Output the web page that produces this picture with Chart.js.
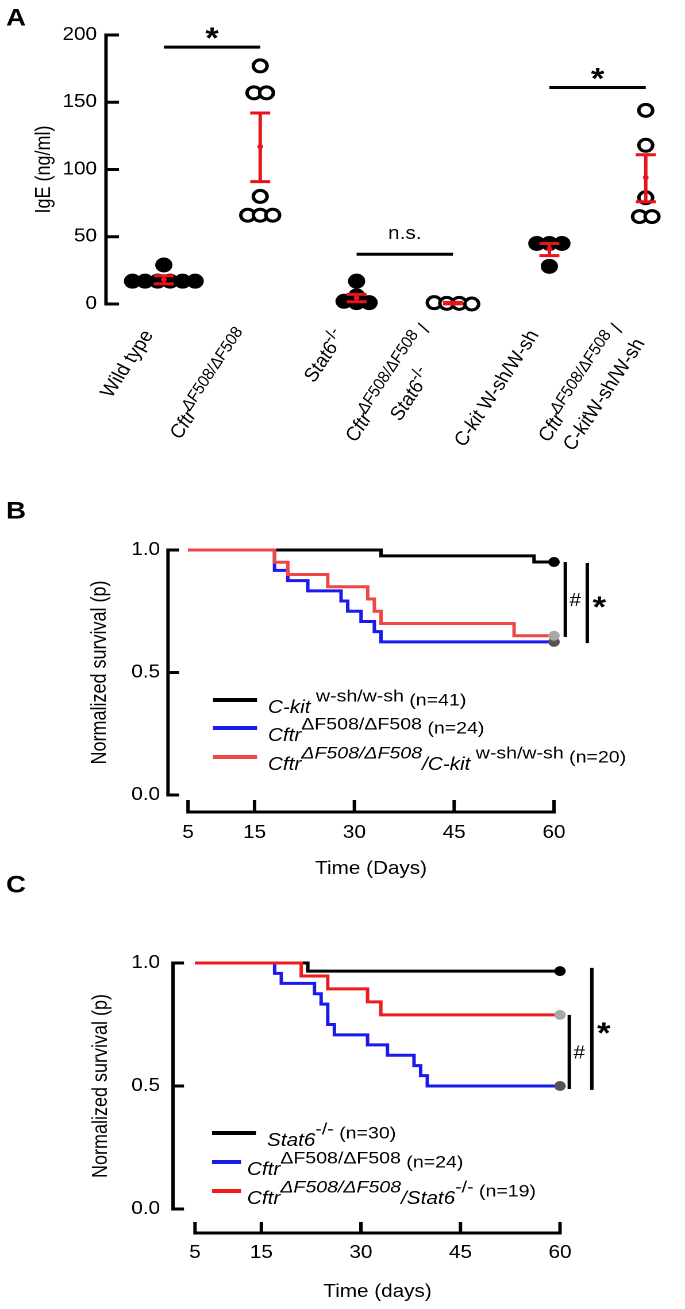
<!DOCTYPE html>
<html>
<head>
<meta charset="utf-8">
<script src="https://cdn.jsdelivr.net/npm/chart.js@4.4.1/dist/chart.umd.min.js"></script>
<style>
  html, body { margin: 0; padding: 0; background: #fff; overflow: hidden; }
  canvas { position: absolute; left: 0; display: block; transform-origin: 0 0; }
</style>
</head>
<body>
<canvas id="chartA" width="596" height="490" style="top:0px"></canvas>
<canvas id="chartB" width="596" height="410" style="top:490px"></canvas>
<canvas id="chartC" width="596" height="449" style="top:860px"></canvas>
<script>
const FONT = '"Liberation Sans", Arial, Helvetica, sans-serif';
const W = 596;
const SX = 685 / W;            // the figure is drawn slightly stretched sideways
const X = t => t / SX;         // photo x -> canvas x
const FS = 18;                 // axis text size

// ---------- panel A: serum IgE ----------
const groupsA = ['Wild type', 'CftrΔF508/ΔF508', 'Stat6-/-', 'CftrΔF508/ΔF508 / Stat6-/-',
                 'C-kit W-sh/W-sh', 'CftrΔF508/ΔF508 / C-kitW-sh/W-sh'];
const tickLinesA = [
  [[['Wild type', 'n']]],
  [[['Cftr', 'i'], ['ΔF508/ΔF508', 'si']]],
  [[['Stat6', 'i'], ['-/-', 's']]],
  [[['Cftr', 'i'], ['ΔF508/ΔF508', 'si'], [' /', 'n']], [['Stat6', 'i'], ['-/-', 's']]],
  [[['C-kit', 'i'], [' W-sh/W-sh', 'n']]],
  [[['Cftr', 'i'], ['ΔF508/ΔF508', 'si'], [' /', 'n']], [['C-kit', 'i'], ['W-sh/W-sh', 'n']]]
];
const filledA = [true, false, true, false, true, false];
const igeWT = [29, 17, 17, 17, 17, 17, 17];
const igeCftr = [177, 157, 157, 80, 66, 66, 66];
const igeStat6 = [17, 6, 2, 1, 1];
const igeCftrStat6 = [1, 0.5, 0.5, 0];
const igeCkit = [45, 45, 45, 28];
const igeCftrCkit = [144, 118, 79, 65, 65];
const igeMean = [18, 117, 4.5, 0.6, 41, 94];
const igeLow = [15, 91, 1.7, 0.1, 36, 76];
const igeHigh = [21, 142, 7.2, 1.2, 45, 111];
const igeTicks = [0, 50, 100, 150, 200];
const sigFromA = [0, 2, 4];
const sigLevelA = [191, 37, 161];
const sigTextA = ['*', 'n.s.', '*'];

// ---------- panel B: survival, C-kit ----------
const dayTicks = [5, 15, 30, 45, 60];
const survTicks = [0, 0.5, 1];
const daysCkit = [5, 34, 57, 60];
const survCkit = [1, 0.976, 0.951, 0.951];
const daysCftrB = [5, 18, 20, 23, 28, 29, 31, 33, 34, 60];
const survCftrB = [1, 0.917, 0.875, 0.833, 0.792, 0.75, 0.708, 0.667, 0.625, 0.625];
const daysCftrCkit = [5, 18, 20, 26, 32, 33, 34, 54, 60];
const survCftrCkit = [1, 0.95, 0.9, 0.85, 0.8, 0.75, 0.7, 0.65, 0.65];
const legendB = [
  [['C-kit', 'i'], [' w-sh/w-sh', 's'], [' (n=41)', 'm']],
  [['Cftr', 'i'], ['ΔF508/ΔF508', 's'], [' (n=24)', 'm']],
  [['Cftr', 'i'], ['ΔF508/ΔF508', 'si'], ['/C-kit', 'i'], [' w-sh/w-sh', 's'], [' (n=20)', 'm']]
];
const sigDayB = [61.7, 65.0];
const sigTopB = [0.951, 0.947];
const sigBotB = [0.645, 0.62];
const sigTextB = ['#', '*'];

// ---------- panel C: survival, Stat6 ----------
const daysStat6 = [5, 22, 60];
const survStat6 = [1, 0.967, 0.967];
const daysCftrC = [5, 17, 18, 23, 24, 25, 26, 31, 34, 38, 39, 40, 60];
const survCftrC = [1, 0.958, 0.917, 0.875, 0.833, 0.75, 0.708, 0.667, 0.625, 0.583, 0.542, 0.5, 0.5];
const daysCftrStat6 = [5, 21, 25, 31, 33, 60];
const survCftrStat6 = [1, 0.947, 0.895, 0.842, 0.789, 0.789];
const legendC = [
  [['Stat6', 'i'], ['-/-', 's'], [' (n=30)', 'm']],
  [['Cftr', 'i'], ['ΔF508/ΔF508', 's'], [' (n=24)', 'm']],
  [['Cftr', 'i'], ['ΔF508/ΔF508', 'si'], ['/Stat6', 'i'], ['-/-', 's'], [' (n=19)', 'm']]
];
const sigDayC = [61.4, 64.8];
const sigTopC = [0.789, 0.98];
const sigBotC = [0.488, 0.484];
const sigTextC = ['#', '*'];

// text styles for mixed italic / superscript labels
const STY_A = {
  n: {f: `18px ${FONT}`, dy: 0}, i: {f: `italic 18px ${FONT}`, dy: 0},
  s: {f: `15px ${FONT}`, dy: -6}, si: {f: `italic 15px ${FONT}`, dy: -6}
};
const STY_LEG = {
  n: {f: `18px ${FONT}`, dy: 8}, i: {f: `italic 18px ${FONT}`, dy: 8},
  s: {f: `17px ${FONT}`, dy: -3}, si: {f: `italic 17px ${FONT}`, dy: -3},
  m: {f: `17px ${FONT}`, dy: 1}
};

function richWidth(ctx, segs, sty) {
  return segs.reduce((w, [t, s]) => { ctx.font = sty[s].f; return w + ctx.measureText(t).width; }, 0);
}

function drawRich(ctx, segs, x, y, align, sty) {
  const total = richWidth(ctx, segs, sty);
  let cx = align === 'right' ? x - total : align === 'center' ? x - total / 2 : x;
  ctx.textAlign = 'left';
  ctx.textBaseline = 'middle';
  segs.forEach(([t, s]) => {
    ctx.font = sty[s].f;
    ctx.fillText(t, cx, y + sty[s].dy);
    cx += ctx.measureText(t).width;
  });
}

function sigFont(t) {
  return t === '*' ? `bold 30px ${FONT}` : `18px ${FONT}`;
}

// put text so that its ink is centred on (cx, cy)
function textCentered(ctx, t, cx, cy) {
  ctx.textAlign = 'center';
  ctx.textBaseline = 'alphabetic';
  const m = ctx.measureText(t);
  ctx.fillText(t, cx, cy + (m.actualBoundingBoxAscent - m.actualBoundingBoxDescent) / 2);
}

function panelLetter(ctx, t, x, y) {
  ctx.fillStyle = '#000';
  ctx.font = `bold 24px ${FONT}`;
  textCentered(ctx, t, x, y);
}

// spread equal values side by side, like the dot plot
function swarm(values, center) {
  const rows = [];
  values.slice().sort((a, b) => b - a).forEach(v => {
    const row = rows[rows.length - 1];
    if (row && Math.abs(row[0] - v) <= 3) row.push(v); else rows.push([v]);
  });
  const pts = [];
  rows.forEach(row => row.forEach((v, i) => pts.push({x: center + (i - (row.length - 1) / 2) * 0.13, y: v})));
  return pts;
}

const panelA = {
  id: 'panelA',
  afterDatasetsDraw(chart) {
    const {ctx, chartArea: ca, scales: {x, y}} = chart;
    ctx.save();
    ctx.strokeStyle = '#000';
    ctx.lineWidth = 3;
    ctx.beginPath();
    ctx.moveTo(ca.left, y.getPixelForValue(200) - 1.5);
    ctx.lineTo(ca.left, y.getPixelForValue(0) + 1.5);
    igeTicks.forEach(v => {
      const py = y.getPixelForValue(v);
      ctx.moveTo(ca.left, py);
      ctx.lineTo(ca.left + X(13), py);
    });
    ctx.stroke();

    // mean +/- SEM in red
    ctx.strokeStyle = '#e8141a';
    ctx.fillStyle = '#e8141a';
    igeMean.forEach((m, i) => {
      const px = x.getPixelForValue(i);
      const lo = y.getPixelForValue(igeLow[i]);
      const hi = y.getPixelForValue(igeHigh[i]);
      ctx.beginPath();
      ctx.moveTo(px, lo); ctx.lineTo(px, hi);
      ctx.moveTo(px - X(10), lo); ctx.lineTo(px + X(10), lo);
      ctx.moveTo(px - X(10), hi); ctx.lineTo(px + X(10), hi);
      ctx.stroke();
      ctx.beginPath();
      ctx.arc(px, y.getPixelForValue(m), 2.5, 0, Math.PI * 2);
      ctx.fill();
    });

    // significance bars
    ctx.strokeStyle = '#000';
    ctx.fillStyle = '#000';
    sigFromA.forEach((g, i) => {
      const x0 = x.getPixelForValue(g), x1 = x.getPixelForValue(g + 1);
      const py = y.getPixelForValue(sigLevelA[i]);
      ctx.beginPath();
      ctx.moveTo(x0, py); ctx.lineTo(x1, py);
      ctx.stroke();
      ctx.font = sigFont(sigTextA[i]);
      textCentered(ctx, sigTextA[i], (x0 + x1) / 2, py - (sigTextA[i] === '*' ? 13 : 20));
    });

    // rotated category labels
    tickLinesA.forEach((lines, i) => {
      ctx.save();
      ctx.translate(x.getPixelForValue(i) - X(15), 332);
      ctx.rotate(-60 * Math.PI / 180);
      const blockW = Math.max(...lines.map(l => richWidth(ctx, l, STY_A)));
      lines.forEach((l, k) => drawRich(ctx, l, -blockW / 2, (k - (lines.length - 1) / 2) * 23, 'center', STY_A));
      ctx.restore();
    });

    panelLetter(ctx, 'A', X(16), 17);
    ctx.restore();
  }
};

const kmPanel = {
  id: 'kmPanel',
  afterDatasetsDraw(chart, args, o) {
    const {ctx, chartArea: ca, scales: {x, y}} = chart;
    ctx.save();
    ctx.strokeStyle = '#000';
    ctx.fillStyle = '#000';
    ctx.lineWidth = 3;
    // detached axes with inward ticks
    const ax = ca.left - o.yGap;
    const ay = ca.bottom + o.xGap;
    ctx.beginPath();
    ctx.moveTo(ax, y.getPixelForValue(1) - 1.5);
    ctx.lineTo(ax, y.getPixelForValue(0) + 1.5);
    survTicks.forEach(v => {
      const py = y.getPixelForValue(v);
      ctx.moveTo(ax, py); ctx.lineTo(ax + X(11), py);
    });
    ctx.moveTo(x.getPixelForValue(dayTicks[0]) - 1.5, ay);
    ctx.lineTo(x.getPixelForValue(dayTicks[dayTicks.length - 1]) + 1.5, ay);
    dayTicks.forEach(v => {
      const px = x.getPixelForValue(v);
      ctx.moveTo(px, ay); ctx.lineTo(px, ay - o.tickX);
    });
    ctx.stroke();

    // significance brackets
    o.sigDay.forEach((d, i) => {
      const px = x.getPixelForValue(d);
      const top = y.getPixelForValue(o.sigTop[i]), bot = y.getPixelForValue(o.sigBot[i]);
      ctx.beginPath();
      ctx.moveTo(px, top); ctx.lineTo(px, bot);
      ctx.stroke();
      ctx.font = sigFont(o.sigText[i]);
      textCentered(ctx, o.sigText[i], px + X(o.sigText[i] === '*' ? 12 : 10), (top + bot) / 2);
    });

    // legend
    o.legend.forEach((segs, i) => {
      const ly = o.legendY[i];
      ctx.strokeStyle = chart.data.datasets[i].borderColor;
      ctx.lineWidth = 4;
      ctx.beginPath();
      ctx.moveTo(o.sampleX0, ly); ctx.lineTo(o.sampleX1[i], ly);
      ctx.stroke();
      ctx.fillStyle = '#000';
      drawRich(ctx, segs, o.textX[i], ly, 'left', STY_LEG);
    });

    panelLetter(ctx, o.letter, X(16), o.letterY);
    ctx.restore();
  }
};

new Chart(document.getElementById('chartA'), {
  type: 'scatter',
  data: {
    datasets: [igeWT, igeCftr, igeStat6, igeCftrStat6, igeCkit, igeCftrCkit].map((vals, i) => ({
      label: groupsA[i],
      data: swarm(vals, i),
      pointRadius: 6,
      pointBorderWidth: 3,
      pointBorderColor: '#000',
      pointBackgroundColor: filledA[i] ? '#000' : '#fff',
      clip: false
    }))
  },
  options: {
    responsive: false,
    animation: false,
    devicePixelRatio: 2,
    events: [],
    layout: {padding: {top: 35, bottom: 490 - 304, left: 0, right: W - X(680.7)}},
    plugins: {legend: {display: false}, tooltip: {enabled: false}},
    scales: {
      x: {type: 'linear', min: -0.6, max: 5.3, display: false},
      y: {
        min: 0, max: 200,
        afterBuildTicks: s => { s.ticks = igeTicks.map(v => ({value: v})); },
        afterFit: s => { s.width = X(106); },
        grid: {display: false, drawTicks: false},
        border: {display: false},
        ticks: {color: '#000', font: {family: FONT, size: FS}, padding: X(9)},
        title: {display: true, text: 'IgE (ng/ml)', color: '#000', font: {family: FONT, size: FS},
                padding: {top: X(44) - FS * 0.6, bottom: 0}}
      }
    }
  },
  plugins: [panelA]
});

function kmSet(label, days, surv, color, dot, order) {
  return {
    label: label,
    data: days.map((d, i) => ({x: d, y: surv[i]})),
    borderColor: color,
    borderWidth: 3,
    borderJoinStyle: 'miter',
    stepped: 'before',
    fill: false,
    order: order,
    pointRadius: c => c.dataIndex === days.length - 1 ? 4.5 : 0,
    pointBackgroundColor: dot,
    pointBorderColor: dot,
    pointBorderWidth: 1,
    clip: false
  };
}

function kmChart(id, datasets, l) {
  return new Chart(document.getElementById(id), {
    type: 'line',
    data: {datasets: datasets},
    options: {
      responsive: false,
      animation: false,
      devicePixelRatio: 2,
      events: [],
      layout: {padding: {top: l.top, bottom: l.bottom, left: 0, right: W - X(l.right)}},
      plugins: {legend: {display: false}, tooltip: {enabled: false}, kmPanel: l.km},
      scales: {
        x: {
          type: 'linear', min: 5, max: 60,
          afterBuildTicks: s => { s.ticks = dayTicks.map(v => ({value: v})); },
          afterFit: s => { s.height = l.xHeight; },
          grid: {display: false, drawTicks: false},
          border: {display: false},
          ticks: {color: '#000', font: {family: FONT, size: FS}, padding: l.xPad, maxRotation: 0},
          title: {display: true, text: l.xTitle, color: '#000', font: {family: FONT, size: FS},
                  padding: {top: 0, bottom: l.xTitlePad}}
        },
        y: {
          min: 0, max: 1,
          afterBuildTicks: s => { s.ticks = survTicks.map(v => ({value: v})); },
          afterFit: s => { s.width = X(l.left); },
          grid: {display: false, drawTicks: false},
          border: {display: false},
          ticks: {color: '#000', font: {family: FONT, size: FS}, padding: X(l.yPad),
                  callback: v => v.toFixed(1)},
          title: {display: true, text: 'Normalized survival (p)', color: '#000',
                  font: {family: FONT, size: FS}, padding: {top: X(l.yTitleX) - FS * 0.6, bottom: 0}}
        }
      }
    },
    plugins: [kmPanel]
  });
}

kmChart('chartB', [
  kmSet('C-kit w-sh/w-sh', daysCkit, survCkit, '#000000', '#000000', 2),
  kmSet('CftrΔF508/ΔF508', daysCftrB, survCftrB, '#1a1aee', '#555555', 1),
  kmSet('CftrΔF508/ΔF508/C-kit w-sh/w-sh', daysCftrCkit, survCftrCkit, '#f04646', '#a8a8a8', 0)
], {
  top: 60, bottom: 5, left: 188, right: 554, xHeight: 100, xPad: 27, xTitlePad: 15,
  xTitle: 'Time (Days)', yPad: 28, yTitleX: 100,
  km: {
    yGap: X(20), xGap: 17, tickX: 12,
    sigDay: sigDayB, sigTop: sigTopB, sigBot: sigBotB, sigText: sigTextB,
    legend: legendB, legendY: [210, 238, 267],
    sampleX0: X(213), sampleX1: [X(257), X(257), X(257)], textX: [X(268), X(268), X(268)],
    letter: 'B', letterY: 20
  }
});

kmChart('chartC', [
  kmSet('Stat6-/-', daysStat6, survStat6, '#000000', '#000000', 2),
  kmSet('CftrΔF508/ΔF508', daysCftrC, survCftrC, '#1a1aee', '#555555', 1),
  kmSet('CftrΔF508/ΔF508/Stat6-/-', daysCftrStat6, survCftrStat6, '#ee1c1c', '#a8a8a8', 0)
], {
  top: 103, bottom: 6, left: 195, right: 560, xHeight: 94, xPad: 33, xTitlePad: 0,
  xTitle: 'Time (days)', yPad: 35, yTitleX: 101,
  km: {
    yGap: X(22), xGap: 24, tickX: 11,
    sigDay: sigDayC, sigTop: sigTopC, sigBot: sigBotC, sigText: sigTextC,
    legend: legendC, legendY: [273, 302, 331],
    sampleX0: X(212), sampleX1: [X(256), X(241), X(241)], textX: [X(267), X(247), X(247)],
    letter: 'C', letterY: 24
  }
});

// stretch the canvases to the figure's width
document.querySelectorAll('canvas').forEach(c => { c.style.transform = `scaleX(${SX})`; });
</script>
</body>
</html>
